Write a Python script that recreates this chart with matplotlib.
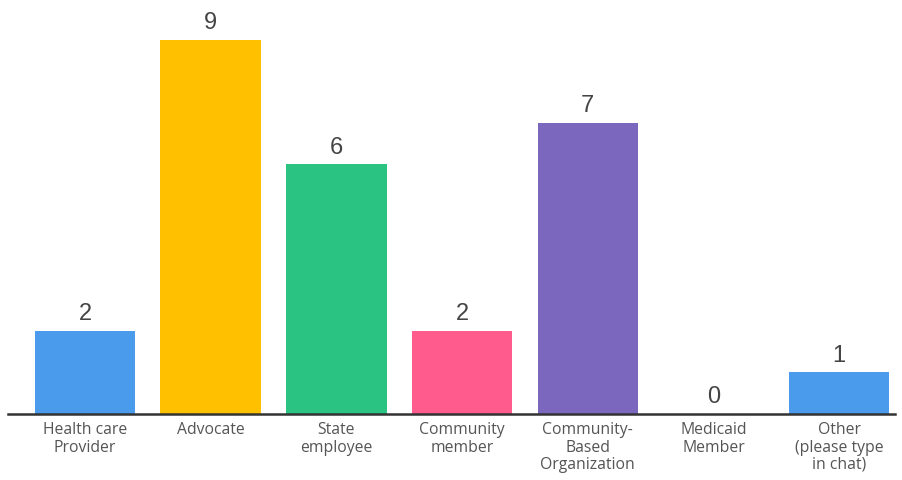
import matplotlib
matplotlib.use("Agg")
import matplotlib.pyplot as plt

categories = ["Health care\nProvider", "Advocate", "State\nemployee", "Community\nmember",
              "Community-\nBased\nOrganization", "Medicaid\nMember", "Other\n(please type\nin chat)"]
values = [2, 9, 6, 2, 7, 0, 1]
colors = ["#4A9BEB", "#FFC000", "#2BC381", "#FF5B8D", "#7B68BE", "#4A9BEB", "#4A9BEB"]

fig = plt.figure(figsize=(9.03, 4.8), dpi=100)
ax = fig.add_axes([8/903, 66/480, (895-8)/903, 414/480])
x = list(range(len(categories)))
bars = ax.bar(x, values, width=0.8, color=colors)
ax.set_xlim(-0.613, 6.444)
ax.set_ylim(0, 9.95)
ax.bar_label(bars, labels=[str(v) for v in values], padding=4, fontsize=17,
             color="#444444", family="Liberation Sans")
for s in ["top", "right", "left"]:
    ax.spines[s].set_visible(False)
ax.spines["bottom"].set_color("#333333")
ax.spines["bottom"].set_linewidth(1.8)
ax.set_yticks([])
ax.set_xticks(x)
ax.set_xticklabels(categories, fontsize=11.3, color="#555555", family="Open Sans", linespacing=1.1)
ax.tick_params(axis="x", length=0, pad=6)
fig.savefig("out.png", dpi=100)
